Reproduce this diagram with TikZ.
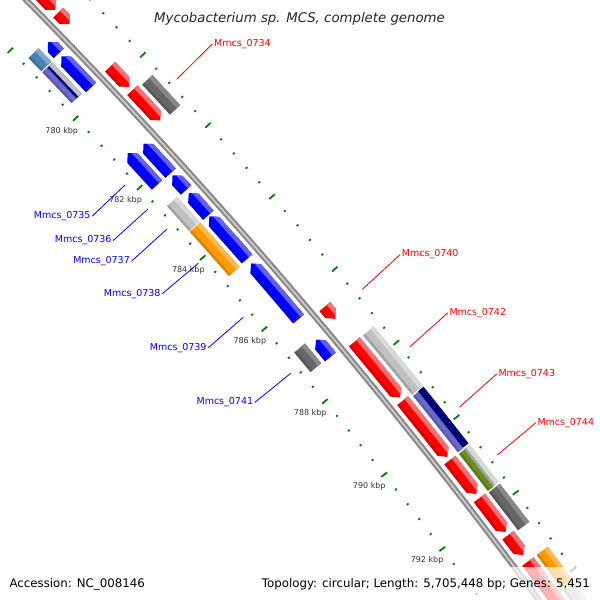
\documentclass[tikz,border=0pt]{standalone}
\usepackage{fontspec}
\setmainfont{DejaVu Sans}
\definecolor{fred}{HTML}{FF0000}
\definecolor{fredl}{HTML}{FF7070}
\definecolor{fblue}{HTML}{0000FF}
\definecolor{fbluel}{HTML}{6060FF}
\definecolor{fdgray}{HTML}{666666}
\definecolor{fdgrayl}{HTML}{888888}
\definecolor{flgray}{HTML}{C0C0C0}
\definecolor{flgrayl}{HTML}{D8D8D8}
\definecolor{forange}{HTML}{FF9900}
\definecolor{forangel}{HTML}{FFB84D}
\definecolor{fnavy}{HTML}{000080}
\definecolor{flav}{HTML}{6A6ACD}
\definecolor{fsteel}{HTML}{4682B4}
\definecolor{fsteell}{HTML}{7FA8D0}
\definecolor{folive}{HTML}{6B8E23}
\definecolor{tickgreen}{HTML}{008000}
\definecolor{bbgray}{HTML}{8A8A8A}
\definecolor{bblight}{HTML}{D0D0D0}
\newcommand\gsetup[4]{%
  \def\gRi{#3}\def\gRo{#4}%
  \pgfmathsetmacro\gRm{(#3+#4)/2}%
  \pgfmathsetmacro\gTa{43.153-(#1-137.07)/\gRm*57.2958}%
  \pgfmathsetmacro\gTb{43.153-(#2-137.07)/\gRm*57.2958}%
  \pgfmathsetmacro\gHd{7/\gRm*57.2958}%
  \pgfmathsetmacro\gTc{min(\gTa,\gTb+\gHd)}%
  \pgfmathsetmacro\gTd{max(\gTb,\gTa-\gHd)}%
}
\newcommand\gPathB[1]{\path[#1] (\gTa:\gRi) arc[start angle=\gTa,end angle=\gTb,radius=\gRi] -- (\gTb:\gRo) arc[start angle=\gTb,end angle=\gTa,radius=\gRo] -- cycle;}
\newcommand\gPathF[1]{\path[#1] (\gTa:\gRi) arc[start angle=\gTa,end angle=\gTc,radius=\gRi] -- (\gTb:\gRm) -- (\gTc:\gRo) arc[start angle=\gTc,end angle=\gTa,radius=\gRo] -- cycle;}
\newcommand\gPathR[1]{\path[#1] (\gTa:\gRm) -- (\gTd:\gRi) arc[start angle=\gTd,end angle=\gTb,radius=\gRi] -- (\gTb:\gRo) arc[start angle=\gTb,end angle=\gTd,radius=\gRo] -- cycle;}
% #1 type, #2 s1, #3 s2, #4 rin, #5 rout, #6 base colour, #7 light colour
\newcommand\gfeat[7]{%
  \begingroup
  \gsetup{#2}{#3}{#4}{#5}%
  \csname gPath#1\endcsname{fill=#6}%
  \begin{scope}
    \csname gPath#1\endcsname{clip}%
    \pgfmathsetmacro\gHa{\gRo-4.5}\pgfmathsetmacro\gHb{\gRo+2}%
    \pgfmathsetmacro\gSa{\gRi-2}\pgfmathsetmacro\gSb{\gRi+2.5}%
    \pgfmathsetmacro\gTx{\gTa+0.3}\pgfmathsetmacro\gTy{\gTb-0.3}%
    \fill[#7] (\gTx:\gHa) arc[start angle=\gTx,end angle=\gTy,radius=\gHa] -- (\gTy:\gHb) arc[start angle=\gTy,end angle=\gTx,radius=\gHb] -- cycle;
    \fill[black,opacity=0.15] (\gTx:\gSa) arc[start angle=\gTx,end angle=\gTy,radius=\gSa] -- (\gTy:\gSb) arc[start angle=\gTy,end angle=\gTx,radius=\gSb] -- cycle;
  \end{scope}
  \endgroup}
\begin{document}
\begin{tikzpicture}[x=1pt,y=1pt,
  tickmark/.style={draw=tickgreen,line width=1.8pt},
  ticklab/.style={font=\fontsize{8}{9}\selectfont,text=black!80,inner sep=0pt},
  genelab/.style={font=\fontsize{9.5}{11}\selectfont,inner sep=0pt},
  fwdlab/.style={genelab,text=fred,anchor=base west},
  revlab/.style={genelab,text=fblue,anchor=base east},
  fwdcon/.style={draw=fred,line width=0.8pt},
  revcon/.style={draw=fblue,line width=0.8pt},
  legend/.style={font=\fontsize{11.8}{13}\selectfont,inner sep=0pt,text=black}]
\useasboundingbox (0,0) rectangle (600,-600);
\clip (0,0) rectangle (600,-600);
\fill[white] (0,0) rectangle (600,-600);
\coordinate (C) at (-3963.95,-3928.9);
\begin{scope}[shift={(C)}]
  % backbone
  \pgfmathsetmacro\bA{43.153-(-60-137.07)/5600*57.2958}
  \pgfmathsetmacro\bB{43.153-(950-137.07)/5600*57.2958}
  \draw[bbgray,line width=6pt] (\bA:5600) arc[start angle=\bA,end angle=\bB,radius=5600];
  \draw[bblight,line width=1.6pt] (\bA:5600) arc[start angle=\bA,end angle=\bB,radius=5600];
  % ring +1 : forward genes
  \gfeat{F}{-40}{27}{5607}{5621}{fred}{fredl}
  \gfeat{F}{31}{47}{5607}{5621}{fred}{fredl}
  \gfeat{F}{106}{133.6}{5607}{5621}{fred}{fredl}
  \gfeat{F}{138.4}{179.5}{5607}{5621}{fred}{fredl}
  \gfeat{F}{428}{444}{5607}{5621}{fred}{fredl}
  \gfeat{F}{474}{546}{5607}{5621}{fred}{fredl}
  \gfeat{F}{550}{622}{5607}{5621}{fred}{fredl}
  \gfeat{F}{626}{669}{5607}{5621}{fred}{fredl}
  \gfeat{F}{674}{717}{5607}{5621}{fred}{fredl}
  \gfeat{F}{721}{746}{5607}{5621}{fred}{fredl}
  \gfeat{F}{754}{815}{5607}{5621}{fred}{fredl}
  % ring +2
  \gfeat{B}{141}{182}{5625}{5639}{fdgray}{fdgrayl}
  \gfeat{B}{475.6}{552.5}{5625}{5639}{flgray}{flgrayl}
  \gfeat{B}{554}{626}{5625}{5632}{flav}{flav}
  \gfeat{B}{554}{626}{5632}{5639}{fnavy}{fnavy}
  \gfeat{B}{628}{675}{5625}{5632}{folive}{folive}
  \gfeat{B}{628}{675}{5632}{5639}{flgray}{flgrayl}
  \gfeat{B}{677}{725}{5625}{5639}{fdgray}{fdgrayl}
  \gfeat{B}{756}{797}{5625}{5639}{forange}{forangel}
  \gfeat{B}{800}{850}{5625}{5639}{flgray}{flgrayl}
  % ring -1 : reverse genes
  \gfeat{R}{45.5}{61}{5579}{5593}{fblue}{fbluel}
  \gfeat{R}{65}{108}{5579}{5593}{fblue}{fbluel}
  \gfeat{R}{185}{225}{5579}{5593}{fblue}{fbluel}
  \gfeat{R}{228}{248}{5579}{5593}{fblue}{fbluel}
  \gfeat{R}{252}{281.5}{5579}{5593}{fblue}{fbluel}
  \gfeat{R}{283}{340}{5579}{5593}{fblue}{fbluel}
  \gfeat{R}{346}{419}{5579}{5593}{fblue}{fbluel}
  \gfeat{R}{446}{468.6}{5579}{5593}{fblue}{fbluel}
  % ring -2
  \gfeat{B}{43.6}{62}{5561}{5575}{fsteel}{fsteell}
  \gfeat{B}{63.6}{106}{5561}{5568}{flav}{flav}
  \gfeat{B}{63.6}{106}{5568}{5575}{fnavy}{flgray}
  \gfeat{R}{181}{224.4}{5561}{5575}{fblue}{fbluel}
  \gfeat{B}{246.7}{280}{5561}{5575}{flgray}{flgrayl}
  \gfeat{B}{281}{340.3}{5561}{5575}{forange}{forangel}
  \gfeat{B}{441}{466.5}{5561}{5575}{fdgray}{fdgrayl}
  % ticks
  \foreach \k in {0,...,45}{
    \pgfmathsetmacro\tA{45.275-0.1946*\k}
    \pgfmathtruncatemacro\isMaj{mod(\k,5)==0}
    \ifnum\isMaj=1 \def\hl{3.6}\else\def\hl{1.1}\fi
    \pgfmathsetmacro\rIa{5553.5-\hl}\pgfmathsetmacro\rIb{5553.5+\hl}
    \pgfmathsetmacro\rOa{5646-\hl}\pgfmathsetmacro\rOb{5646+\hl}
    \draw[tickmark] (\tA:\rIa) -- (\tA:\rIb);
    \draw[tickmark] (\tA:\rOa) -- (\tA:\rOb);
  }
  \foreach \kb in {780,782,...,792}{
    \pgfmathsetmacro\tA{43.329-(\kb-780)*0.4865}
    \node[ticklab] (tl\kb) at (\tA:5534.5) {\kb\ kbp};
  }
\end{scope}
% gene labels and connectors
\node[fwdlab] (l0734) at (214,-46.2) {Mmcs\_0734};
\node[revlab] (l0735) at (90.7,-218.6) {Mmcs\_0735};
\node[revlab] (l0736) at (111.7,-242.9) {Mmcs\_0736};
\node[revlab] (l0737) at (130,-263.6) {Mmcs\_0737};
\node[revlab] (l0738) at (160.7,-296.2) {Mmcs\_0738};
\node[revlab] (l0739) at (206.7,-350.2) {Mmcs\_0739};
\node[fwdlab] (l0740) at (401.7,-256.9) {Mmcs\_0740};
\node[revlab] (l0741) at (253.3,-404.9) {Mmcs\_0741};
\node[fwdlab] (l0742) at (449.3,-315.2) {Mmcs\_0742};
\node[fwdlab] (l0743) at (498.3,-376.2) {Mmcs\_0743};
\node[fwdlab] (l0744) at (537.3,-425.2) {Mmcs\_0744};
\coordinate (e0734) at (176.7,-79.3);
\coordinate (e0735) at (125,-185);
\coordinate (e0736) at (148,-209);
\coordinate (e0737) at (166.7,-229.3);
\coordinate (e0738) at (198.3,-263.3);
\coordinate (e0739) at (243.3,-317.3);
\coordinate (e0740) at (362.3,-289.3);
\coordinate (e0741) at (290.7,-373.3);
\coordinate (e0742) at (410,-346.7);
\coordinate (e0743) at (459.3,-407.3);
\coordinate (e0744) at (497.3,-455);
\draw[fwdcon] ([xshift=-1.5pt]l0734.west) -- (e0734);
\draw[revcon] ([xshift=1.5pt]l0735.east) -- (e0735);
\draw[revcon] ([xshift=1.5pt]l0736.east) -- (e0736);
\draw[revcon] ([xshift=1.5pt]l0737.east) -- (e0737);
\draw[revcon] ([xshift=1.5pt]l0738.east) -- (e0738);
\draw[revcon] ([xshift=1.5pt]l0739.east) -- (e0739);
\draw[fwdcon] ([xshift=-1.5pt]l0740.west) -- (e0740);
\draw[revcon] ([xshift=1.5pt]l0741.east) -- (e0741);
\draw[fwdcon] ([xshift=-1.5pt]l0742.west) -- (e0742);
\draw[fwdcon] ([xshift=-1.5pt]l0743.west) -- (e0743);
\draw[fwdcon] ([xshift=-1.5pt]l0744.west) -- (e0744);
% title and legend
\node[font=\fontsize{13.3}{15}\selectfont\itshape,inner sep=0pt,anchor=base,text=black!85] (title) at (299.5,-22.7) {Mycobacterium sp. MCS, complete genome};
\fill[white,opacity=0.7] (257,-567) rectangle (600,-600);
\node[legend,anchor=base west] (acc) at (9.3,-587.3) {Accession: NC\_008146};
\node[legend,anchor=base east] (topo) at (590,-587.3) {Topology: circular; Length: 5,705,448 bp; Genes: 5,451};
\end{tikzpicture}
\end{document}
